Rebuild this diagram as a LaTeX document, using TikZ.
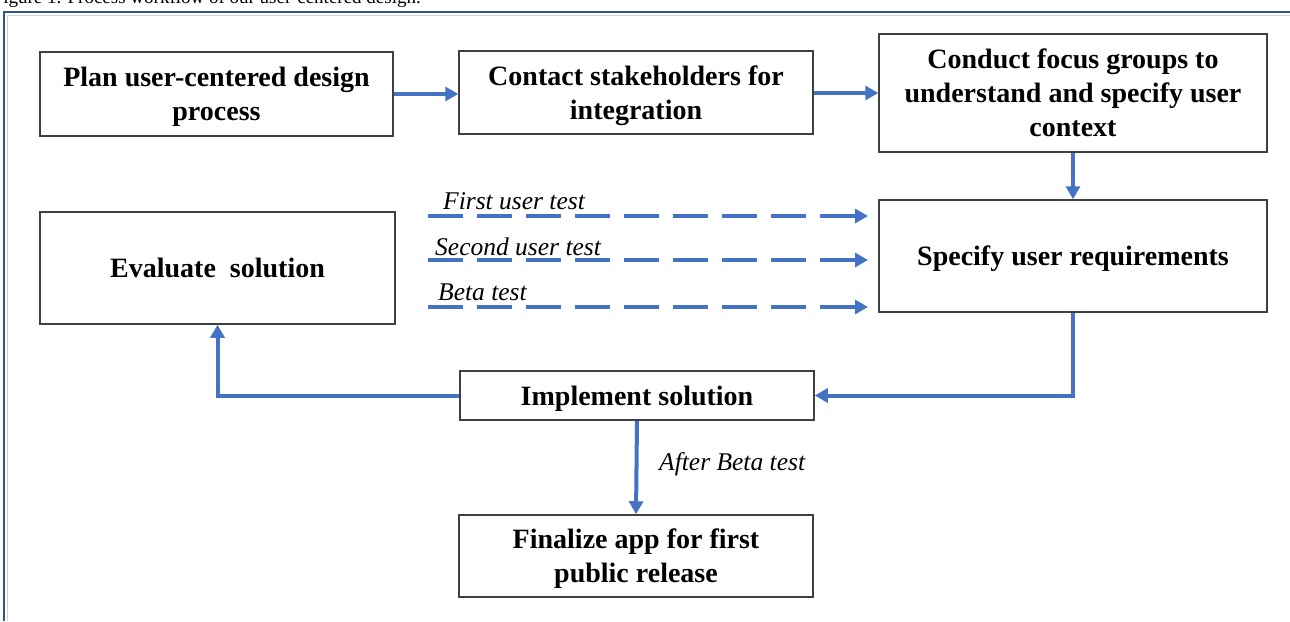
\documentclass[tikz,border=0pt]{standalone}
\usepackage{fontspec}
\setmainfont{Liberation Serif}
\usetikzlibrary{arrows.meta}
\definecolor{flow}{HTML}{4472C4}
\definecolor{frameblue}{HTML}{2F5597}
\definecolor{boxline}{HTML}{404040}
\tikzset{
  stepbox/.style={draw=boxline, line width=1.5pt, fill=white, align=center,
    inner sep=0pt, font=\bfseries\fontsize{28}{34}\selectfont, text depth=0pt},
  flowline/.style={draw=flow, line width=4pt,
    -{Triangle[length=13pt,width=14pt]}},
  testline/.style={flowline, dash pattern=on 35pt off 14pt},
  testlabel/.style={font=\itshape\fontsize{25.5}{28}\selectfont, anchor=base west,
    inner sep=0pt},
}
\begin{document}
\begin{tikzpicture}[x=1pt,y=-1pt]
\useasboundingbox (0,0) rectangle (1290,621);
\fill[white] (0,0) rectangle (1290,621);

% caption above the frame, running off the top of the page
\node[anchor=base east, inner sep=0pt, font=\fontsize{19}{21}\selectfont]
  (caption) at (421,4) {Figure 1. Process workflow of our user-centered design.};

% outer frame
\draw[frameblue!25, line width=1pt] (7,621) -- (7,15) -- (1290,15);
\draw[frameblue, line width=2pt] (4,621) -- (4,12) -- (1290,12);

% process steps
\node[stepbox, minimum width=353pt, minimum height=84pt] (plan) at (216.5,94)
  {Plan user-centered design\\process};
\node[stepbox, minimum width=354pt, minimum height=83pt] (contact) at (636,92.5)
  {Contact stakeholders for\\integration};
\node[stepbox, minimum width=388pt, minimum height=118pt] (focus) at (1073,93)
  {Conduct focus groups to\\understand and specify user\\context};
\node[stepbox, minimum width=388pt, minimum height=112pt] (req) at (1073,256)
  {Specify user requirements};
\node[stepbox, minimum width=355pt, minimum height=112pt] (eval) at (217.5,268)
  {Evaluate\ \ solution};
\node[stepbox, minimum width=354pt, minimum height=49pt] (impl) at (637,395.5)
  {Implement solution};
\node[stepbox, minimum width=354pt, minimum height=82pt] (final) at (636,556)
  {Finalize app for first\\public release};

% main flow
\draw[flowline] (plan.east |- 0,94) -- (contact.west |- 0,94);
\draw[flowline] (contact.east |- 0,93) -- (focus.west |- 0,93);
\draw[flowline] (focus.south) -- (req.north);
\draw[flowline] (req.south) |- (impl.east);
\draw[flowline] (impl.west) -| (eval.south);
\draw[flowline] (impl.south) -- (final.north);
\node[testlabel] (after) at (659,470) {After Beta test};

% user tests feeding back into the requirements
\coordinate (t1s) at (428,216);  \coordinate (t1e) at (868,216);
\coordinate (t2s) at (428,260);  \coordinate (t2e) at (868,260);
\coordinate (t3s) at (428,307);  \coordinate (t3e) at (868,307);
\draw[testline] (t1s) -- (t1e);
\draw[testline] (t2s) -- (t2e);
\draw[testline] (t3s) -- (t3e);
\node[testlabel] (l1) at (443,209) {First user test};
\node[testlabel] (l2) at (435,255) {Second user test};
\node[testlabel] (l3) at (438,300) {Beta test};
\end{tikzpicture}
\end{document}
